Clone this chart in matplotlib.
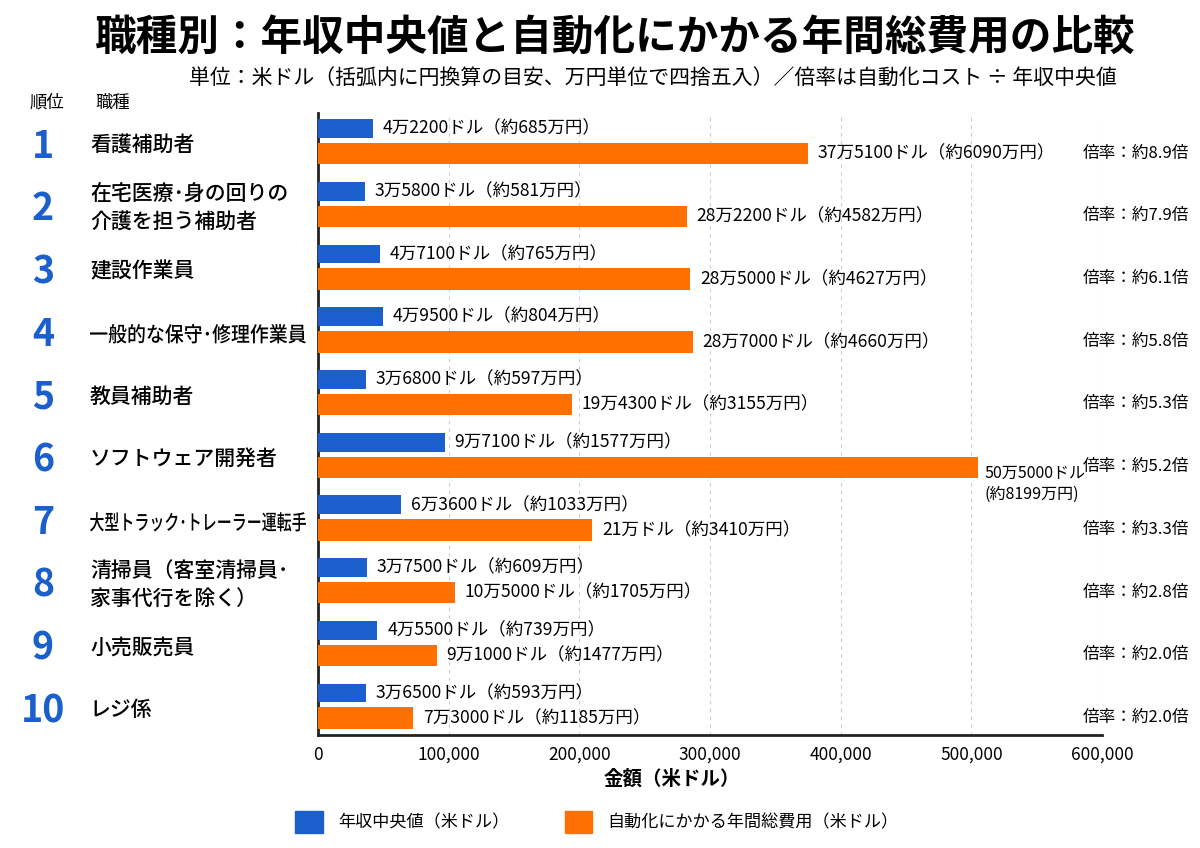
import matplotlib.pyplot as plt
import matplotlib.transforms as mtransforms
from matplotlib.patches import Patch, PathPatch
from matplotlib.textpath import TextPath
from matplotlib.font_manager import FontProperties

plt.rcParams['font.family'] = ['Noto Sans CJK JP', 'DejaVu Sans']

# データ（米ドル、円は万円単位）
ranks = [1, 2, 3, 4, 5, 6, 7, 8, 9, 10]
jobs = ['看護補助者', '在宅医療･身の回りの\n介護を担う補助者', '建設作業員',
        '一般的な保守･修理作業員', '教員補助者', 'ソフトウェア開発者',
        '大型トラック･トレーラー運転手', '清掃員（客室清掃員･\n家事代行を除く）',
        '小売販売員', 'レジ係']
salary = [42200, 35800, 47100, 49500, 36800, 97100, 63600, 37500, 45500, 36500]
salary_yen = [685, 581, 765, 804, 597, 1577, 1033, 609, 739, 593]
auto_cost = [375100, 282200, 285000, 287000, 194300, 505000, 210000, 105000, 91000, 73000]
auto_yen = [6090, 4582, 4627, 4660, 3155, 8199, 3410, 1705, 1477, 1185]
ratio = [8.9, 7.9, 6.1, 5.8, 5.3, 5.2, 3.3, 2.8, 2.0, 2.0]
xticks = [0, 100000, 200000, 300000, 400000, 500000, 600000]

BLUE = '#1a5fcc'
ORANGE = '#ff7000'


def usd_label(v):
    man, rest = divmod(v, 10000)
    return f'{man}万{rest}ドル' if rest else f'{man}万ドル'


fig = plt.figure(figsize=(12, 8.48), dpi=100)
ax = fig.add_axes([318 / 1200, 1 - 735 / 848, 784 / 1200, 622 / 848])

y = list(range(len(jobs)))
y_blue = [i - 0.21 for i in y]
y_orange = [i + 0.19 for i in y]
ax.barh(y_blue, salary, height=0.3, color=BLUE, zorder=3)
ax.barh(y_orange, auto_cost, height=0.34, color=ORANGE, zorder=3)

for i in y:
    ax.annotate(f'{usd_label(salary[i])}（約{salary_yen[i]}万円）',
                (salary[i], y_blue[i]), xytext=(7, 0), textcoords='offset points',
                va='center', ha='left', fontsize=12.6)
    if auto_cost[i] > 450000:
        ax.annotate(f'{usd_label(auto_cost[i])}\n(約{auto_yen[i]}万円)',
                    (auto_cost[i], y_orange[i] + 0.27), xytext=(5, 0),
                    textcoords='offset points', va='center', ha='left',
                    fontsize=11.5, linespacing=1.3)
    else:
        ax.annotate(f'{usd_label(auto_cost[i])}（約{auto_yen[i]}万円）',
                    (auto_cost[i], y_orange[i]), xytext=(7, 0), textcoords='offset points',
                    va='center', ha='left', fontsize=12.6)

ax.set_xlim(0, 600000)
ax.set_ylim(9.46, -0.46)
ax.set_xticks(xticks)
ax.set_xticklabels([f'{t:,}' for t in xticks], fontsize=12.5)
ax.set_yticks([])
ax.tick_params(axis='x', length=0, pad=8)
ax.grid(axis='x', linestyle=(0, (3, 4)), color='#cccccc', linewidth=0.8, zorder=0)
for s in ['top', 'right']:
    ax.spines[s].set_visible(False)
for s in ['left', 'bottom']:
    ax.spines[s].set_linewidth(2)
    ax.spines[s].set_color('#222222')

# 左側の順位と職種、右側の倍率
trans = mtransforms.blended_transform_factory(fig.transFigure, ax.transData)
renderer = fig.canvas.get_renderer()
px = fig.dpi / 72
for i in y:
    ax.text(43 / 1200, i + 0.07, str(ranks[i]), transform=trans, ha='center', va='center',
            fontsize=27, fontweight='bold', color=BLUE)
    t = ax.text(90 / 1200, i + 0.06, jobs[i], transform=trans, ha='left', va='center',
                fontsize=15, fontweight='medium', linespacing=1.35)
    w = t.get_window_extent(renderer).width
    if w > 218:
        # 長い職種名は横方向だけ縮めて描く
        t.remove()
        tp = TextPath((0, 0), jobs[i], size=15,
                      prop=FontProperties(family='Noto Sans CJK JP', weight='medium'))
        bb = tp.get_extents()
        sx = 216 / (bb.width * px)
        yc = ax.transData.transform((0, i + 0.06))[1]
        tr = mtransforms.Affine2D().translate(-bb.x0, -(bb.y0 + bb.y1) / 2) \
            .scale(sx * px, px).translate(90, yc)
        fig.add_artist(PathPatch(tp, transform=tr, color='black', lw=0))
    ax.text(1083 / 1200, i + 0.18, f'倍率：約{ratio[i]}倍', transform=trans,
            ha='left', va='center', fontsize=12)

fig.text(615 / 1200, 1 - 38 / 848, '職種別：年収中央値と自動化にかかる年間総費用の比較',
         ha='center', va='center', fontsize=30, fontweight='bold')
fig.text(653 / 1200, 1 - 78 / 848,
         '単位：米ドル（括弧内に円換算の目安、万円単位で四捨五入）／倍率は自動化コスト ÷ 年収中央値',
         ha='center', va='center', fontsize=15)
fig.text(30 / 1200, 1 - 103 / 848, '順位', ha='left', va='center', fontsize=12.5)
fig.text(95 / 1200, 1 - 103 / 848, '職種', ha='left', va='center', fontsize=12.5)
fig.text(672 / 1200, 1 - 779 / 848, '金額（米ドル）', ha='center', va='center',
         fontsize=14, fontweight='bold')

handles = [Patch(color=BLUE, label='年収中央値（米ドル）'),
           Patch(color=ORANGE, label='自動化にかかる年間総費用（米ドル）')]
fig.legend(handles=handles, loc='center', bbox_to_anchor=(597 / 1200, 1 - 822 / 848),
           ncol=2, frameon=False, fontsize=12.3, handlelength=1.6, handleheight=1.6,
           columnspacing=3.25, handletextpad=0.9)

fig.savefig('out.png', dpi=100)
